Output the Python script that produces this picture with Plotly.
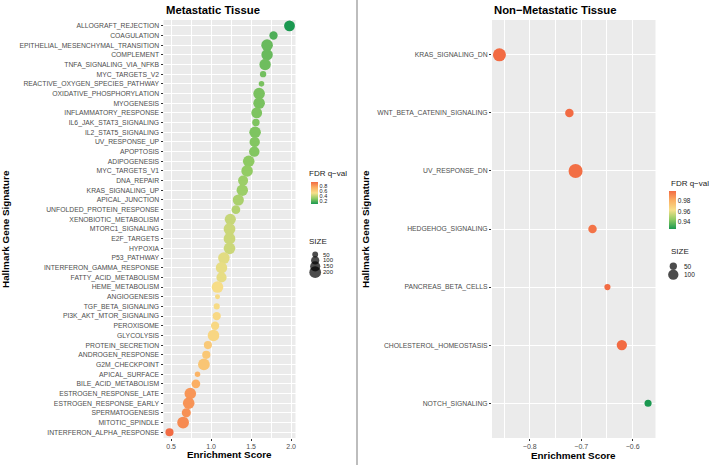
import plotly.graph_objects as go

W, H = 709, 465

# ---------------- data: Metastatic Tissue ----------------
met_pathways = [
    "ALLOGRAFT_REJECTION", "COAGULATION", "EPITHELIAL_MESENCHYMAL_TRANSITION", "COMPLEMENT",
    "TNFA_SIGNALING_VIA_NFKB", "MYC_TARGETS_V2", "REACTIVE_OXYGEN_SPECIES_PATHWAY",
    "OXIDATIVE_PHOSPHORYLATION", "MYOGENESIS", "INFLAMMATORY_RESPONSE", "IL6_JAK_STAT3_SIGNALING",
    "IL2_STAT5_SIGNALING", "UV_RESPONSE_UP", "APOPTOSIS", "ADIPOGENESIS", "MYC_TARGETS_V1",
    "DNA_REPAIR", "KRAS_SIGNALING_UP", "APICAL_JUNCTION", "UNFOLDED_PROTEIN_RESPONSE",
    "XENOBIOTIC_METABOLISM", "MTORC1_SIGNALING", "E2F_TARGETS", "HYPOXIA", "P53_PATHWAY",
    "INTERFERON_GAMMA_RESPONSE", "FATTY_ACID_METABOLISM", "HEME_METABOLISM", "ANGIOGENESIS",
    "TGF_BETA_SIGNALING", "PI3K_AKT_MTOR_SIGNALING", "PEROXISOME", "GLYCOLYSIS",
    "PROTEIN_SECRETION", "ANDROGEN_RESPONSE", "G2M_CHECKPOINT", "APICAL_SURFACE",
    "BILE_ACID_METABOLISM", "ESTROGEN_RESPONSE_LATE", "ESTROGEN_RESPONSE_EARLY",
    "SPERMATOGENESIS", "MITOTIC_SPINDLE", "INTERFERON_ALPHA_RESPONSE",
]
met_es = [
    1.98, 1.78, 1.70, 1.70, 1.675, 1.65, 1.63, 1.60, 1.60, 1.57, 1.56, 1.55, 1.545, 1.54,
    1.47, 1.45, 1.40, 1.39, 1.34, 1.31, 1.24, 1.23, 1.23, 1.23, 1.16, 1.13, 1.13, 1.08,
    1.08, 1.07, 1.07, 1.05, 1.03, 0.96, 0.94, 0.91, 0.83, 0.81, 0.74, 0.72, 0.69, 0.65, 0.48,
]
met_fdr = [
    0.10, 0.20, 0.25, 0.25, 0.26, 0.27, 0.28, 0.28, 0.28, 0.29, 0.29, 0.29, 0.30, 0.30,
    0.32, 0.33, 0.35, 0.35, 0.38, 0.40, 0.44, 0.45, 0.45, 0.45, 0.50, 0.51, 0.51, 0.56,
    0.57, 0.57, 0.58, 0.58, 0.59, 0.65, 0.66, 0.67, 0.75, 0.77, 0.85, 0.86, 0.87, 0.89, 0.99,
]
met_size = [
    170, 100, 195, 190, 190, 58, 45, 195, 195, 170, 80, 195, 155, 160, 195, 195, 145, 190,
    180, 110, 180, 200, 200, 195, 195, 190, 150, 195, 36, 54, 100, 100, 195, 95, 98, 200,
    44, 110, 195, 195, 120, 200, 95,
]

# ---------------- data: Non-Metastatic Tissue ----------------
non_pathways = [
    "KRAS_SIGNALING_DN", "WNT_BETA_CATENIN_SIGNALING", "UV_RESPONSE_DN", "HEDGEHOG_SIGNALING",
    "PANCREAS_BETA_CELLS", "CHOLESTEROL_HOMEOSTASIS", "NOTCH_SIGNALING",
]
non_es = [-0.859, -0.723, -0.711, -0.678, -0.649, -0.621, -0.570]
non_fdr = [0.999, 0.999, 0.998, 0.997, 0.999, 0.999, 0.926]
non_size = [160, 68, 185, 68, 36, 100, 47]

size_breaks_met = [50, 100, 150, 200]
size_breaks_non = [50, 100]
fdr_ticks_met = [0.2, 0.4, 0.6, 0.8]
fdr_ticks_non = [0.94, 0.96, 0.98]
met_xticks = [0.5, 1.0, 1.5, 2.0]
non_xticks = [-0.8, -0.7, -0.6]

# ---------------- styling ----------------
FONT = "Liberation Sans"
TICKC = "#4D4D4D"
PANEL = "#EBEBEB"
CSCALE = [[0, "#1A9850"], [0.25, "#8FCB63"], [0.5, "#F7E08A"], [0.75, "#FBB063"], [1, "#F26B43"]]
SREF_MET = 2.9
SREF_NON = 1.88


def px(x):
    return x / W


def py(y):
    return 1 - y / H


# panel boxes (pixels)
L = dict(x0=163.5, x1=295.5, y0=20, y1=438)
R = dict(x0=492, x1=655.5, y0=20, y1=438)

fig = go.Figure()

fig.add_trace(go.Scatter(
    x=met_es, y=met_pathways, mode="markers", xaxis="x", yaxis="y",
    marker=dict(color=met_fdr, coloraxis="coloraxis", size=met_size, sizemode="area",
                sizeref=SREF_MET, line=dict(width=0), opacity=1),
    hoverinfo="skip",
))
fig.add_trace(go.Scatter(
    x=non_es, y=non_pathways, mode="markers", xaxis="x2", yaxis="y2",
    marker=dict(color=non_fdr, coloraxis="coloraxis2", size=non_size, sizemode="area",
                sizeref=SREF_NON, line=dict(width=0), opacity=1),
    hoverinfo="skip",
))

# size legend keys (overlay axis in pixel units)
lx_met, ly_met, step_met = 315.2, 254.5, 5.9
fig.add_trace(go.Scatter(
    x=[lx_met] * len(size_breaks_met),
    y=[ly_met + i * step_met for i in range(len(size_breaks_met))],
    mode="markers", xaxis="x3", yaxis="y3", cliponaxis=False,
    marker=dict(color="black", size=size_breaks_met, sizemode="area", sizeref=SREF_MET,
                line=dict(width=0)),
    hoverinfo="skip",
))
lx_non, ly_non, step_non = 673.3, 266.2, 8.5
fig.add_trace(go.Scatter(
    x=[lx_non] * len(size_breaks_non),
    y=[ly_non + i * step_non for i in range(len(size_breaks_non))],
    mode="markers", xaxis="x3", yaxis="y3", cliponaxis=False,
    marker=dict(color="black", size=size_breaks_non, sizemode="area", sizeref=SREF_NON,
                line=dict(width=0)),
    hoverinfo="skip",
))

annotations = []


def ann(text, x, y, size, xanchor="left", color="black", angle=0, yanchor="middle"):
    annotations.append(dict(
        text=text, x=px(x), y=py(y), xref="paper", yref="paper", showarrow=False,
        xanchor=xanchor, yanchor=yanchor, textangle=angle,
        font=dict(family=FONT, size=size, color=color),
    ))


for i, b in enumerate(size_breaks_met):
    ann(str(b), 320.5, ly_met + i * step_met, 6, color="#222222")
for i, b in enumerate(size_breaks_non):
    ann(str(b), 681.5, ly_non + i * step_non, 6.5, color="#222222")

ann("SIZE", 307, 242, 8, color="#222222")
ann("SIZE", 669, 251, 8, color="#222222")
ann("FDR q\u2212val", 307, 173.5, 8, color="#222222")
ann("FDR q\u2212val", 669, 183.5, 8, color="#222222")

ann("<b>Metastatic Tissue</b>", L["x0"], 10, 11.3)
ann("<b>Non\u2212Metastatic Tissue</b>", R["x0"], 10, 11.3)
ann("<b>Enrichment Score</b>", (L["x0"] + L["x1"]) / 2, 454.5, 9.9, xanchor="center")
ann("<b>Enrichment Score</b>", (R["x0"] + R["x1"]) / 2, 455, 9.9, xanchor="center")
ann("<b>Hallmark Gene Signature</b>", 6, (L["y0"] + L["y1"]) / 2, 9.9, xanchor="center", angle=-90)
ann("<b>Hallmark Gene Signature</b>", 366, (R["y0"] + R["y1"]) / 2, 9.9, xanchor="center", angle=-90)

shapes = [
    dict(type="rect", xref="paper", yref="paper", x0=px(L["x0"]), x1=px(L["x1"]),
         y0=py(L["y1"]), y1=py(L["y0"]), fillcolor=PANEL, line=dict(width=0), layer="below"),
    dict(type="rect", xref="paper", yref="paper", x0=px(R["x0"]), x1=px(R["x1"]),
         y0=py(R["y1"]), y1=py(R["y0"]), fillcolor=PANEL, line=dict(width=0), layer="below"),
    dict(type="line", xref="paper", yref="paper", x0=px(357), x1=px(357), y0=0, y1=1,
         line=dict(color="#9A9A9A", width=1.3)),
]


def xaxis_cfg(box, vals, lo, hi, fmt, minor_dtick, anchor):
    span = hi - lo
    return dict(
        domain=[px(box["x0"]), px(box["x1"])], anchor=anchor,
        range=[lo - 0.05 * span, hi + 0.05 * span],
        tickvals=vals, tickformat=fmt,
        showgrid=True, gridcolor="white", gridwidth=1,
        minor=dict(dtick=minor_dtick, tick0=0, showgrid=True, gridcolor="white", gridwidth=0.5),
        zeroline=False, showline=False,
        ticks="outside", ticklen=2, tickwidth=0.5, tickcolor="#333333",
        tickfont=dict(family=FONT, size=7, color=TICKC),
        fixedrange=True,
    )


def yaxis_cfg(box, cats, anchor):
    n = len(cats)
    return dict(
        domain=[py(box["y1"]), py(box["y0"])], anchor=anchor,
        type="category", categoryorder="array", categoryarray=cats,
        range=[n - 1 + 0.6, -0.6],
        showgrid=True, gridcolor="white", gridwidth=1,
        zeroline=False, showline=False,
        ticks="outside", ticklen=2, tickwidth=0.5, tickcolor="#333333",
        tickfont=dict(family=FONT, size=6.8, color=TICKC),
        fixedrange=True,
    )


def cbar(x, ytop, length, ticks, fsize):
    return dict(
        x=px(x), xanchor="left", y=py(ytop), yanchor="top",
        len=length, lenmode="pixels", thickness=6.5, thicknessmode="pixels",
        xpad=0, ypad=0, outlinewidth=0, tickvals=ticks, ticks="",
        tickfont=dict(family=FONT, size=fsize, color="#222222"),
    )


fig.update_layout(
    width=W, height=H, margin=dict(l=0, r=0, t=0, b=0),
    paper_bgcolor="white", plot_bgcolor="rgba(0,0,0,0)",
    showlegend=False,
    font=dict(family=FONT),
    xaxis=xaxis_cfg(L, met_xticks, min(met_es), max(met_es), ".1f", 0.25, "y"),
    yaxis=yaxis_cfg(L, met_pathways, "x"),
    xaxis2=xaxis_cfg(R, non_xticks, min(non_es), max(non_es), ".1f", 0.05, "y2"),
    yaxis2=yaxis_cfg(R, non_pathways, "x2"),
    xaxis3=dict(domain=[0, 1], range=[0, W], visible=False, fixedrange=True, anchor="y3"),
    yaxis3=dict(domain=[0, 1], range=[H, 0], visible=False, fixedrange=True, anchor="x3"),
    coloraxis=dict(colorscale=CSCALE, cmin=min(met_fdr), cmax=max(met_fdr),
                   colorbar=cbar(310.5, 181.5, 21.5, fdr_ticks_met, 5.5)),
    coloraxis2=dict(colorscale=CSCALE, cmin=min(non_fdr), cmax=max(non_fdr),
                    colorbar=cbar(669, 191, 38, fdr_ticks_non, 6.5)),
    annotations=annotations,
    shapes=shapes,
)

fig.write_html("out.html")
